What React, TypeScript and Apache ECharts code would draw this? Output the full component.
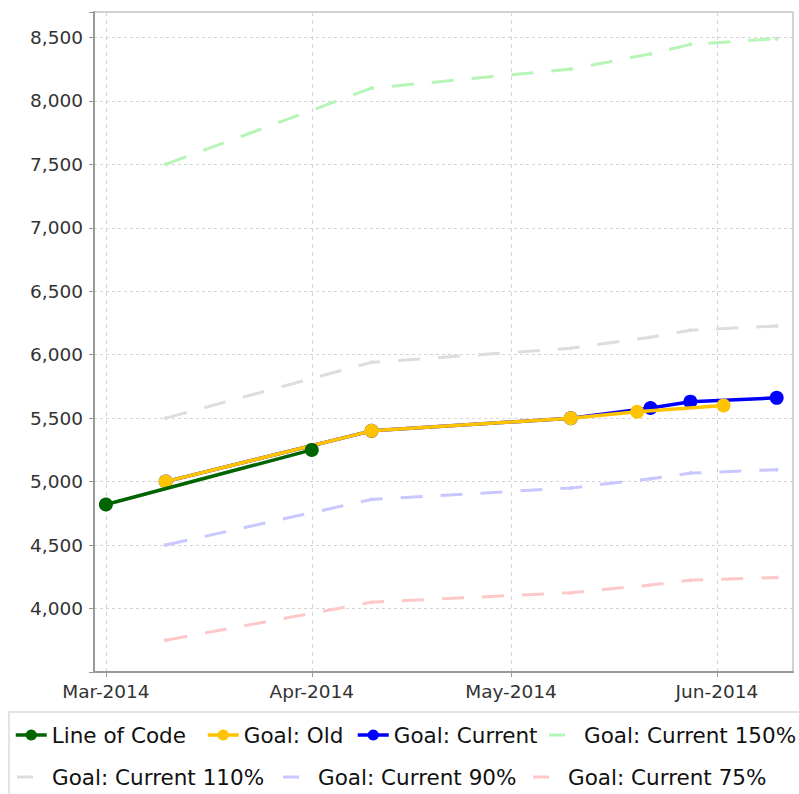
import React, { useEffect, useRef } from "react";
import * as echarts from "echarts";

// ---- data ----
const locDates = ["2014-03-01", "2014-04-01"];
const locValues = [4820, 5250];

const oldDates = ["2014-03-10", "2014-04-10", "2014-05-10", "2014-05-20", "2014-06-02"];
const oldValues = [5000, 5400, 5500, 5550, 5600];

const curDates = ["2014-03-10", "2014-04-10", "2014-05-10", "2014-05-22", "2014-05-28", "2014-06-10"];
const curValues = [5000, 5400, 5500, 5580, 5630, 5660];
const cur150Values = [7500, 8100, 8250, 8370, 8445, 8490];
const cur110Values = [5500, 5940, 6050, 6138, 6193, 6226];
const cur90Values = [4500, 4860, 4950, 5022, 5067, 5094];
const cur75Values = [3750, 4050, 4125, 4185, 4223, 4245];

const yTicks = [4000, 4500, 5000, 5500, 6000, 6500, 7000, 7500, 8000, 8500];
const monthNames = ["Jan", "Feb", "Mar", "Apr", "May", "Jun", "Jul", "Aug", "Sep", "Oct", "Nov", "Dec"];

const FONT = "DejaVu Sans";
const C_LOC = "#006400";
const C_OLD = "#ffc400";
const C_CUR = "#0000ff";
const C_150 = "#b6f5b6";
const C_110 = "#dddddd";
const C_90 = "#c8c8ff";
const C_75 = "#ffc8c8";

function toTime(s: string, h = 0): number {
  const [y, m, d] = s.split("-").map(Number);
  return new Date(y, m - 1, d, h).getTime();
}
function pairs(dates: string[], values: number[]) {
  return dates.map((d, i) => [toTime(d), values[i]]);
}

export default function App() {
  const ref = useRef<HTMLDivElement>(null);
  useEffect(() => {
    if (!ref.current) return;
    const chart = echarts.init(ref.current, undefined, { renderer: "svg" });

    const mainSeries = (name: string, color: string, data: any[], z: number) => ({
      name,
      type: "line",
      data,
      z,
      color,
      symbol: "circle",
      symbolSize: 14,
      showSymbol: true,
      lineStyle: { width: 3.5, color },
      itemStyle: { color },
    });
    const dashSeries = (name: string, color: string, data: any[]) => ({
      name,
      type: "line",
      data,
      z: 2,
      color,
      symbol: "circle",
      symbolSize: 4,
      showSymbol: true,
      lineStyle: { width: 3, color, type: [22, 18] },
      itemStyle: { color },
    });

    const ROW1 = 722;
    const ROW2 = 764;
    const legendText = { fontSize: 21.5, fontFamily: FONT, color: "#111", lineHeight: 26 };
    const mainLegend = (name: string, left: number, top: number) => ({
      data: [name],
      left,
      top,
      padding: 0,
      itemWidth: 31,
      itemHeight: 14,
      textStyle: legendText,
      lineStyle: { width: 3.5 },
      selectedMode: false,
    });
    const dashLegend = (name: string, left: number, top: number) => ({
      data: [name],
      left,
      top,
      padding: 0,
      icon: "none",
      itemWidth: 16,
      itemHeight: 14,
      textStyle: { ...legendText, padding: [0, 0, 0, 14] },
      selectedMode: false,
    });
    const dashIcon = (left: number, top: number, color: string) => ({
      type: "rect",
      shape: { x: left, y: top + 13 - 1.5, width: 16, height: 3 },
      style: { fill: color },
      silent: true,
    });

    const option: any = {
      animation: false,
      backgroundColor: "#ffffff",
      grid: {
        left: 94,
        top: 12,
        right: 6,
        bottom: 122,
        show: true,
        borderColor: "#c4c4c4",
        borderWidth: 1.5,
      },
      xAxis: {
        type: "time",
        min: toTime("2014-02-27", 5),
        max: toTime("2014-06-12", 11),
        splitNumber: 4,
        minInterval: 28 * 86400000,
        axisLine: { show: true, lineStyle: { color: "#999", width: 2 } },
        axisTick: { show: true, length: 5, lineStyle: { color: "#999" } },
        axisLabel: {
          fontSize: 18.5,
          fontFamily: FONT,
          color: "#333",
          margin: 10,
          formatter: (v: number) => {
            const d = new Date(v);
            return monthNames[d.getMonth()] + "-" + d.getFullYear();
          },
        },
        splitLine: { show: true, lineStyle: { color: "#d4d4d4", type: [4, 4], width: 1 } },
      },
      yAxis: {
        type: "value",
        min: 3500,
        max: 8700,
        interval: 500,
        axisLine: { show: true, lineStyle: { color: "#999", width: 2 } },
        axisTick: { show: true, length: 5, lineStyle: { color: "#999" } },
        axisLabel: {
          fontSize: 18.5,
          fontFamily: FONT,
          color: "#333",
          margin: 11,
          formatter: (v: number) => (yTicks.indexOf(v) >= 0 ? v.toLocaleString("en-US") : ""),
        },
        splitLine: { show: true, lineStyle: { color: "#d4d4d4", type: [3, 3], width: 1 } },
      },
      legend: [
        mainLegend("Line of Code", 14, ROW1),
        mainLegend("Goal: Old", 206, ROW1),
        mainLegend("Goal: Current", 356, ROW1),
        dashLegend("Goal: Current 150%", 549, ROW1),
        dashLegend("Goal: Current 110%", 17, ROW2),
        dashLegend("Goal: Current 90%", 283, ROW2),
        dashLegend("Goal: Current 75%", 533, ROW2),
      ],
      graphic: [
        {
          type: "rect",
          shape: { x: 9, y: 712, width: 820, height: 120 },
          style: { fill: "none", stroke: "#dcdcdc", lineWidth: 1.5 },
          silent: true,
        },
        dashIcon(549, ROW1, C_150),
        dashIcon(17, ROW2, C_110),
        dashIcon(283, ROW2, C_90),
        dashIcon(533, ROW2, C_75),
      ],
      series: [
        mainSeries("Line of Code", C_LOC, pairs(locDates, locValues), 6),
        mainSeries("Goal: Old", C_OLD, pairs(oldDates, oldValues), 5),
        mainSeries("Goal: Current", C_CUR, pairs(curDates, curValues), 4),
        dashSeries("Goal: Current 150%", C_150, pairs(curDates, cur150Values)),
        dashSeries("Goal: Current 110%", C_110, pairs(curDates, cur110Values)),
        dashSeries("Goal: Current 90%", C_90, pairs(curDates, cur90Values)),
        dashSeries("Goal: Current 75%", C_75, pairs(curDates, cur75Values)),
      ],
    };
    chart.setOption(option);
    return () => chart.dispose();
  }, []);

  return (
    <div
      ref={ref}
      style={{ position: "absolute", left: 0, top: 0, width: 799, height: 794, background: "#fff" }}
    />
  );
}
